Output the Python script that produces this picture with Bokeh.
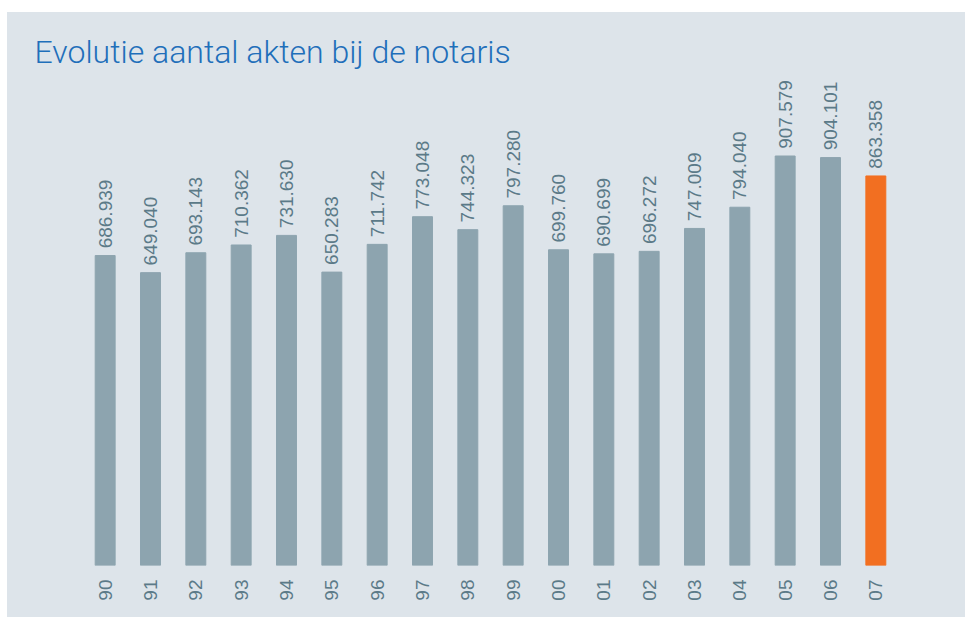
import math
from bokeh.plotting import figure
from bokeh.models import ColumnDataSource, Spacer
from bokeh.layouts import column, row
from bokeh.core.properties import value
from bokeh.embed import file_html
from bokeh.resources import INLINE

years = ["90", "91", "92", "93", "94", "95", "96", "97", "98", "99",
         "00", "01", "02", "03", "04", "05", "06", "07"]
acts = [686.939, 649.040, 693.143, 710.362, 731.630, 650.283, 711.742, 773.048,
        744.323, 797.280, 699.760, 690.699, 696.272, 747.009, 794.040, 907.579,
        904.101, 863.358]
title_text = "Evolutie aantal akten bij de notaris"

BG = "#dde4ea"
GREY = "#8da4af"
ORANGE = "#f26f21"
LABEL = "#5b7a88"

colors = [GREY] * (len(years) - 1) + [ORANGE]
labels = ["%.3f" % v for v in acts]
label_y = [v + 16 for v in acts]

src = ColumnDataSource(dict(x=years, top=acts, color=colors, lab=labels, ly=label_y))

p = figure(x_range=years, y_range=(0, 1086), width=958, height=605,
           output_backend="svg", toolbar_location=None,
           background_fill_color=BG, border_fill_color=BG,
           min_border_left=75, min_border_right=67, min_border_top=63, min_border_bottom=52)
p.styles = {"background-color": BG}
p.outline_line_color = None
p.grid.grid_line_color = None
p.x_range.range_padding = 0

p.vbar(x="x", top="top", width=0.44, color="color", source=src)
p.text(x="x", y="ly", text="lab", angle=math.pi / 2, text_align="left", text_baseline="middle",
       text_font=value("Liberation Sans"), text_font_size="19px", text_color=LABEL, source=src)

p.yaxis.visible = False
xa = p.xaxis[0]
xa.axis_line_color = None
xa.major_tick_line_color = None
xa.minor_tick_line_color = None
xa.major_label_orientation = math.pi / 2
xa.major_label_standoff = 8
xa.major_label_text_font = "Liberation Sans"
xa.major_label_text_font_size = "19px"
xa.major_label_text_color = LABEL

p.title.text = title_text
p.title.text_font = "Roboto Light, Roboto"
p.title.text_font_style = "normal"
p.title.text_font_size = "32px"
p.title.text_color = "#1f6fba"
p.title.align = "left"
p.title.offset = -48

layout = row(Spacer(width=7), column(Spacer(height=12), p))
open("out.html", "w").write(file_html(layout, INLINE))
